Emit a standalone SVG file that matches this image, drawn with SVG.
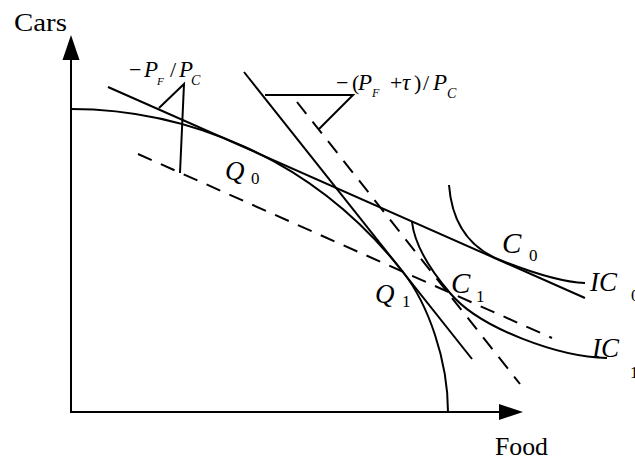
<svg xmlns="http://www.w3.org/2000/svg" width="635" height="459" viewBox="0 0 635 459">
<style>
.ln{fill:none;stroke:#000;stroke-width:2;stroke-linecap:butt}
.ds{fill:none;stroke:#000;stroke-width:2;stroke-dasharray:15 10}
text{font-family:'Liberation Serif','Times New Roman','DejaVu Serif',serif;fill:#000}
.it{font-style:italic}
</style>
<rect width="635" height="459" fill="#fff"/>
<g id="axes">
<path class="ln" d="M71,412 V58 M70,412 H501"/>
<polygon points="71,35 62.5,60 79.5,60" fill="#000"/>
<polygon points="523,412 499,404 499,420" fill="#000"/>
<text font-size="25" x="14" y="31" textLength="53" lengthAdjust="spacingAndGlyphs">Cars</text>
<text font-size="25" x="495" y="455" textLength="53" lengthAdjust="spacingAndGlyphs">Food</text>
</g>
<g id="ppf">
<path class="ln" d="M71,109 C130,109 190,122 245,147 C305,174 358,215 403,272 C428,304 448,360 448,412"/>
</g>
<g id="connectors">
<path id="budget0" class="ln" d="M108,87 L585,298"/>
<path id="budget1" class="ln" d="M244,72 L472,359"/>
<path id="dash0" class="ds" d="M138,154 L552,338"/>
<path id="dash1" class="ds" d="M297,102 L520,384"/>
<path id="tri0" class="ln" d="M159,108 L184,84 L180,173"/>
<path id="tri1" class="ln" d="M265,95 H353 L319,129"/>
</g>
<g id="ic0">
<path class="ln" d="M449,185 C452,225 470,248 500,260 C530,272 560,282 585,283"/>
</g>
<g id="ic1">
<path class="ln" d="M412,222 C415,248 432,272 450,293 C480,329 560,357 607,358"/>
</g>
<g id="labels">
<text class="it" font-size="27" x="225" y="180">Q</text>
<text font-size="17" x="251" y="184">0</text>
<text class="it" font-size="27" x="375" y="303">Q</text>
<text font-size="17" x="402" y="307">1</text>
<text class="it" font-size="29" x="502" y="253">C</text>
<text font-size="17" x="529" y="261">0</text>
<text class="it" font-size="29" x="451" y="293">C</text>
<text font-size="17" x="476" y="302">1</text>
<text class="it" font-size="27" x="590" y="291">IC</text>
<text font-size="17" x="631" y="301">0</text>
<text class="it" font-size="27" x="592" y="357">IC</text>
<text font-size="17" x="630" y="378">1</text>
<text font-size="22" x="129" y="77">−</text>
<text class="it" font-size="23" x="144" y="77">P</text>
<text class="it" font-size="11" x="157" y="85">F</text>
<text font-size="22" x="170" y="77">/</text>
<text class="it" font-size="23" x="179" y="77">P</text>
<text class="it" font-size="14" x="191" y="85">C</text>
<text font-size="22" x="336" y="90">−</text>
<text font-size="22" x="352" y="90">(</text>
<text class="it" font-size="23" x="358" y="90">P</text>
<text class="it" font-size="12" x="372" y="97">F</text>
<text font-size="22" x="390" y="90">+</text>
<text class="it" font-size="23" x="402" y="90">τ</text>
<text font-size="22" x="414" y="90">)</text>
<text font-size="22" x="423" y="90">/</text>
<text class="it" font-size="23" x="433" y="90">P</text>
<text class="it" font-size="14" x="447" y="98">C</text>
</g>
</svg>
